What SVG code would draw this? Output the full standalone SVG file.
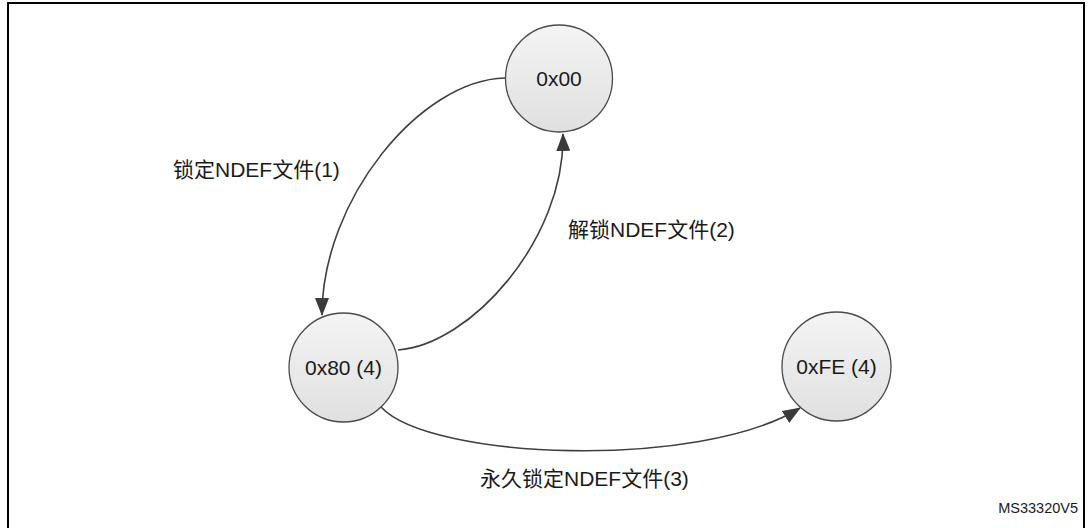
<svg xmlns="http://www.w3.org/2000/svg" width="1088" height="528" viewBox="0 0 1088 528">
  <style>
    .node circle { fill: url(#g); stroke: #4a4a4a; stroke-width: 1.3; }
    .node text, .lbl { font-family: "Liberation Sans", "Noto Sans CJK SC", Arial, sans-serif; font-size: 21px; fill: #1a1a1a; }
    .node text { text-anchor: middle; }
    .conn path { fill: none; stroke: #3f3f3f; stroke-width: 1.6; marker-end: url(#arr); }
    .id { font-family: "Liberation Sans", Arial, sans-serif; font-size: 14.5px; fill: #1a1a1a; text-anchor: end; }
  </style>
  <defs>
    <linearGradient id="g" x1="0" y1="0" x2="0" y2="1">
      <stop offset="0" stop-color="#f4f4f4"/>
      <stop offset="1" stop-color="#e0e0e0"/>
    </linearGradient>
    <marker id="arr" markerUnits="userSpaceOnUse" markerWidth="18" markerHeight="14" refX="17" refY="7" orient="auto">
      <path d="M0,0 L18,7 L0,14 z" fill="#3a3a3a"/>
    </marker>
  </defs>
  <rect x="8" y="3" width="1076" height="540" fill="#fff" stroke="#000" stroke-width="2"/>
  <g class="conn" id="connectors">
    <path d="M505,78 C420,80 322,200 322,315"/>
    <path d="M398,350 C470,345 565,240 563,134"/>
    <path d="M381,407 C430,460 700,470 800,408"/>
  </g>
  <g class="node" id="n00"><circle cx="559" cy="78.5" r="53.5"/><text x="559" y="86">0x00</text></g>
  <g class="node" id="n80"><circle cx="343.5" cy="367.5" r="54.5"/><text x="343.5" y="375">0x80 (4)</text></g>
  <g class="node" id="nFE"><circle cx="836.5" cy="366.5" r="54.5"/><text x="836.5" y="374">0xFE (4)</text></g>
  <text class="lbl" x="173" y="177">锁定NDEF文件(1)</text>
  <text class="lbl" x="568" y="237">解锁NDEF文件(2)</text>
  <text class="lbl" x="480" y="486">永久锁定NDEF文件(3)</text>
  <text class="id" x="1078" y="513">MS33320V5</text>
</svg>
